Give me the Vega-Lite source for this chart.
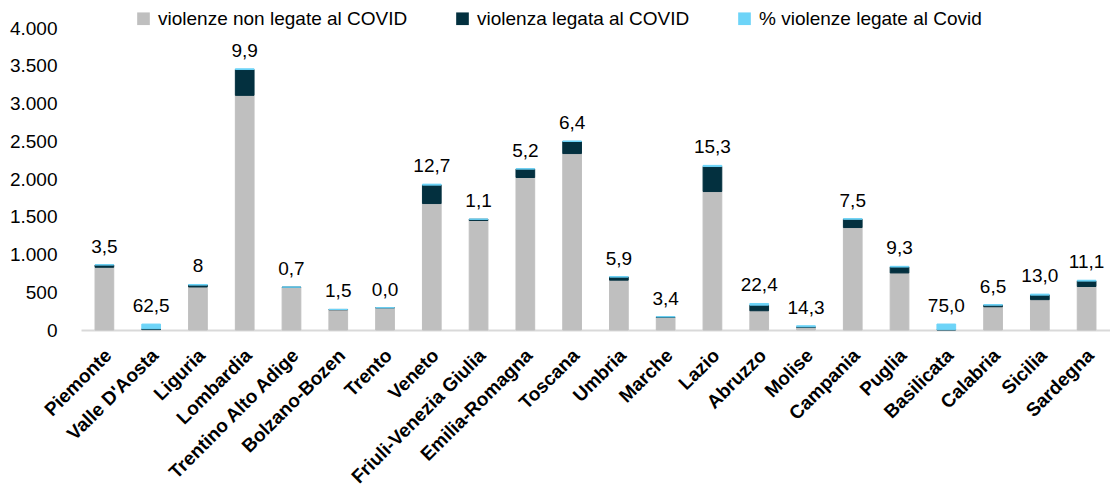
{
  "$schema": "https://vega.github.io/schema/vega-lite/v6.json",
  "width": 1029,
  "height": 302,
  "autosize": {"type": "none"},
  "padding": {"left": 81, "top": 28, "right": 0, "bottom": 160},
  "config": {
    "locale": {"number": {"decimal": ",", "thousands": ".", "grouping": [3], "currency": ["€", ""]}},
    "view": {"stroke": null},
    "font": "Liberation Sans",
    "axisY": {"labelOverlap": false}
  },
  "data": {
    "values": [
      {"Regione": "Piemonte", "violenze non legate al COVID": 831, "violenza legata al COVID": 30, "% violenze legate al Covid": 3.5, "etichetta": "3,5"},
      {"Regione": "Valle D'Aosta", "violenze non legate al COVID": 6, "violenza legata al COVID": 10, "% violenze legate al Covid": 62.5, "etichetta": "62,5"},
      {"Regione": "Liguria", "violenze non legate al COVID": 570, "violenza legata al COVID": 25, "% violenze legate al Covid": 8, "etichetta": "8"},
      {"Regione": "Lombardia", "violenze non legate al COVID": 3108, "violenza legata al COVID": 342, "% violenze legate al Covid": 9.9, "etichetta": "9,9"},
      {"Regione": "Trentino Alto Adige", "violenze non legate al COVID": 564, "violenza legata al COVID": 4, "% violenze legate al Covid": 0.7, "etichetta": "0,7"},
      {"Regione": "Bolzano-Bozen", "violenze non legate al COVID": 268, "violenza legata al COVID": 4, "% violenze legate al Covid": 1.5, "etichetta": "1,5"},
      {"Regione": "Trento", "violenze non legate al COVID": 295, "violenza legata al COVID": 0, "% violenze legate al Covid": 0, "etichetta": "0,0"},
      {"Regione": "Veneto", "violenze non legate al COVID": 1675, "violenza legata al COVID": 244, "% violenze legate al Covid": 12.7, "etichetta": "12,7"},
      {"Regione": "Friuli-Venezia Giulia", "violenze non legate al COVID": 1451, "violenza legata al COVID": 16, "% violenze legate al Covid": 1.1, "etichetta": "1,1"},
      {"Regione": "Emilia-Romagna", "violenze non legate al COVID": 2020, "violenza legata al COVID": 111, "% violenze legate al Covid": 5.2, "etichetta": "5,2"},
      {"Regione": "Toscana", "violenze non legate al COVID": 2337, "violenza legata al COVID": 160, "% violenze legate al Covid": 6.4, "etichetta": "6,4"},
      {"Regione": "Umbria", "violenze non legate al COVID": 660, "violenza legata al COVID": 41, "% violenze legate al Covid": 5.9, "etichetta": "5,9"},
      {"Regione": "Marche", "violenze non legate al COVID": 167, "violenza legata al COVID": 6, "% violenze legate al Covid": 3.4, "etichetta": "3,4"},
      {"Regione": "Lazio", "violenze non legate al COVID": 1834, "violenza legata al COVID": 331, "% violenze legate al Covid": 15.3, "etichetta": "15,3"},
      {"Regione": "Abruzzo", "violenze non legate al COVID": 255, "violenza legata al COVID": 74, "% violenze legate al Covid": 22.4, "etichetta": "22,4"},
      {"Regione": "Molise", "violenze non legate al COVID": 36, "violenza legata al COVID": 6, "% violenze legate al Covid": 14.3, "etichetta": "14,3"},
      {"Regione": "Campania", "violenze non legate al COVID": 1357, "violenza legata al COVID": 110, "% violenze legate al Covid": 7.5, "etichetta": "7,5"},
      {"Regione": "Puglia", "violenze non legate al COVID": 756, "violenza legata al COVID": 78, "% violenze legate al Covid": 9.3, "etichetta": "9,3"},
      {"Regione": "Basilicata", "violenze non legate al COVID": 1, "violenza legata al COVID": 3, "% violenze legate al Covid": 75.0, "etichetta": "75,0"},
      {"Regione": "Calabria", "violenze non legate al COVID": 308, "violenza legata al COVID": 21, "% violenze legate al Covid": 6.5, "etichetta": "6,5"},
      {"Regione": "Sicilia", "violenze non legate al COVID": 402, "violenza legata al COVID": 60, "% violenze legate al Covid": 13.0, "etichetta": "13,0"},
      {"Regione": "Sardegna", "violenze non legate al COVID": 576, "violenza legata al COVID": 72, "% violenze legate al Covid": 11.1, "etichetta": "11,1"}
    ]
  },
  "transform": [
    {"fold": ["violenze non legate al COVID", "violenza legata al COVID", "% violenze legate al Covid"], "as": ["serie", "valore"]},
    {"calculate": "indexof(['violenze non legate al COVID','violenza legata al COVID','% violenze legate al Covid'], datum.serie)", "as": "ordine"}
  ],
  "encoding": {
    "x": {
      "field": "Regione",
      "type": "nominal",
      "sort": null,
      "scale": {"paddingInner": 0.6, "paddingOuter": 0.3},
      "axis": {
        "title": null,
        "labelAngle": -45,
        "labelAlign": "right",
        "labelBaseline": "middle",
        "labelFontWeight": "bold",
        "labelFontSize": 19,
        "labelColor": "#000000",
        "labelPadding": 22,
        "labelOffset": 4,
        "labelLimit": 400,
        "labelOverlap": false,
        "ticks": false,
        "domainColor": "#d9d9d9",
        "domainWidth": 2
      }
    }
  },
  "layer": [
    {
      "mark": {"type": "bar", "strokeWidth": 1},
      "encoding": {
        "y": {
          "field": "valore",
          "type": "quantitative",
          "stack": "zero",
          "title": null,
          "scale": {"domain": [0, 4000]},
          "axis": {
            "title": null,
            "values": [0, 500, 1000, 1500, 2000, 2500, 3000, 3500, 4000],
            "grid": false,
            "ticks": false,
            "domain": false,
            "labelOverlap": false,
            "labelFontSize": 19,
            "labelColor": "#000000",
            "labelPadding": 24
          }
        },
        "order": {"field": "ordine", "type": "quantitative", "sort": "ascending"},
        "color": {
          "field": "serie",
          "type": "nominal",
          "scale": {
            "domain": ["violenze non legate al COVID", "violenza legata al COVID", "% violenze legate al Covid"],
            "range": ["#bfbfbf", "#03303f", "#6dd4f8"]
          },
          "legend": {
            "title": null,
            "orient": "none",
            "direction": "horizontal",
            "legendX": 53,
            "legendY": -19,
            "symbolType": "square",
            "symbolSize": 160,
            "symbolStrokeWidth": 0,
            "labelFontSize": 19,
            "labelColor": "#000000",
            "labelLimit": 400,
            "labelOffset": 5,
            "columnPadding": 45
          }
        },
        "stroke": {
          "field": "serie",
          "type": "nominal",
          "scale": {
            "domain": ["violenze non legate al COVID", "violenza legata al COVID", "% violenze legate al Covid"],
            "range": ["#bfbfbf", "#03303f", "#6dd4f8"]
          },
          "legend": null
        }
      }
    },
    {
      "mark": {"type": "text", "fontSize": 19, "color": "#000000", "baseline": "alphabetic", "dy": -12},
      "encoding": {
        "y": {
          "aggregate": "sum",
          "field": "valore",
          "type": "quantitative",
          "title": null,
          "axis": {
            "title": null,
            "values": [0, 500, 1000, 1500, 2000, 2500, 3000, 3500, 4000],
            "grid": false,
            "ticks": false,
            "domain": false,
            "labelOverlap": false,
            "labelFontSize": 19,
            "labelColor": "#000000",
            "labelPadding": 24
          }
        },
        "text": {"field": "etichetta", "type": "nominal"}
      }
    }
  ]
}
